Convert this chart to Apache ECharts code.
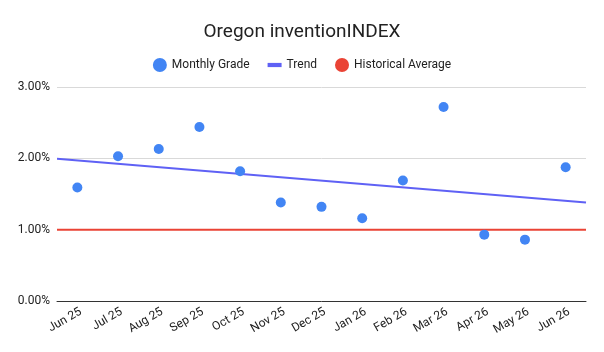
<!DOCTYPE html>
<html>
<head>
<meta charset="utf-8">
<script src="https://cdn.jsdelivr.net/npm/echarts@6/dist/echarts.min.js"></script>
<style>
  html, body { margin: 0; padding: 0; background: #fff; }
  #chart { width: 604px; height: 352px; }
</style>
</head>
<body>
<div id="chart"></div>
<script>
// months shown on the x axis
const months = ['Jun 25', 'Jul 25', 'Aug 25', 'Sep 25', 'Oct 25', 'Nov 25', 'Dec 25',
  'Jan 26', 'Feb 26', 'Mar 26', 'Apr 26', 'May 26', 'Jun 26'];
// monthly grade, in percent
const monthlyGrade = [1.59, 2.03, 2.13, 2.44, 1.82, 1.38, 1.32, 1.16, 1.69, 2.72, 0.93, 0.86, 1.875];
// historical average, in percent
const historicalAverage = [1.0];
const yTicks = [0, 1, 2, 3];

// linear trend (least squares) over the monthly grades
const fitTrend = vals => {
  const n = vals.length;
  const mx = (n - 1) / 2;
  const my = vals.reduce((a, b) => a + b, 0) / n;
  let sxy = 0, sxx = 0;
  vals.forEach((v, i) => { sxy += (i - mx) * (v - my); sxx += (i - mx) * (i - mx); });
  const slope = sxy / sxx;
  return x => my + slope * (x - mx);
};
const trend = fitTrend(monthlyGrade);
const xLo = -0.5, xHi = months.length - 0.5;

const chart = echarts.init(document.getElementById('chart'));
const font = 'Roboto, "Noto Sans", sans-serif';

chart.setOption({
  animation: false,
  textStyle: { fontFamily: font },
  title: {
    text: 'Oregon inventionINDEX',
    left: 'center',
    top: 18,
    textStyle: { fontFamily: font, fontSize: 19, fontWeight: 'normal', color: '#222' }
  },
  legend: {
    top: 53,
    left: 'center',
    itemGap: 18,
    itemWidth: 14,
    itemHeight: 14,
    textStyle: { fontFamily: font, fontSize: 12, color: '#222' },
    data: [
      { name: 'Monthly Grade', icon: 'circle' },
      { name: 'Trend', icon: 'path://M0,0H10V3H0Z', itemStyle: { color: '#5f61f5' } },
      { name: 'Historical Average', icon: 'circle' }
    ]
  },
  grid: { left: 57, right: 18, top: 87, bottom: 51 },
  xAxis: [
    {
      type: 'category',
      data: months,
      boundaryGap: true,
      axisTick: { show: false },
      axisLine: { show: true, lineStyle: { color: '#333', width: 1 } },
      axisLabel: { rotate: 30, color: '#222', fontSize: 12, margin: 12, padding: [0, -4, 0, 0], fontFamily: font }
    },
    { type: 'value', min: xLo, max: xHi, show: false }
  ],
  yAxis: {
    type: 'value',
    min: yTicks[0],
    max: yTicks[yTicks.length - 1],
    interval: 1,
    axisLine: { show: false },
    axisTick: { show: false },
    axisLabel: { formatter: v => v.toFixed(2) + '%', color: '#222', fontSize: 12, margin: 7, fontFamily: font },
    splitLine: { lineStyle: { color: '#d9d9d9' } }
  },
  series: [
    {
      name: 'Monthly Grade',
      type: 'scatter',
      data: monthlyGrade,
      symbolSize: 10,
      itemStyle: { color: '#4285f4', opacity: 1 },
      z: 5
    },
    {
      name: 'Trend',
      type: 'line',
      xAxisIndex: 1,
      data: [[xLo, trend(xLo)], [xHi, trend(xHi)]],
      showSymbol: false,
      lineStyle: { color: '#5f61f5', width: 2 },
      itemStyle: { color: '#5f61f5' },
      z: 3
    },
    {
      name: 'Historical Average',
      type: 'line',
      xAxisIndex: 1,
      data: [[xLo, historicalAverage[0]], [xHi, historicalAverage[0]]],
      showSymbol: false,
      lineStyle: { color: '#ea4335', width: 2 },
      itemStyle: { color: '#ea4335' },
      z: 3
    }
  ]
});
</script>
</body>
</html>
